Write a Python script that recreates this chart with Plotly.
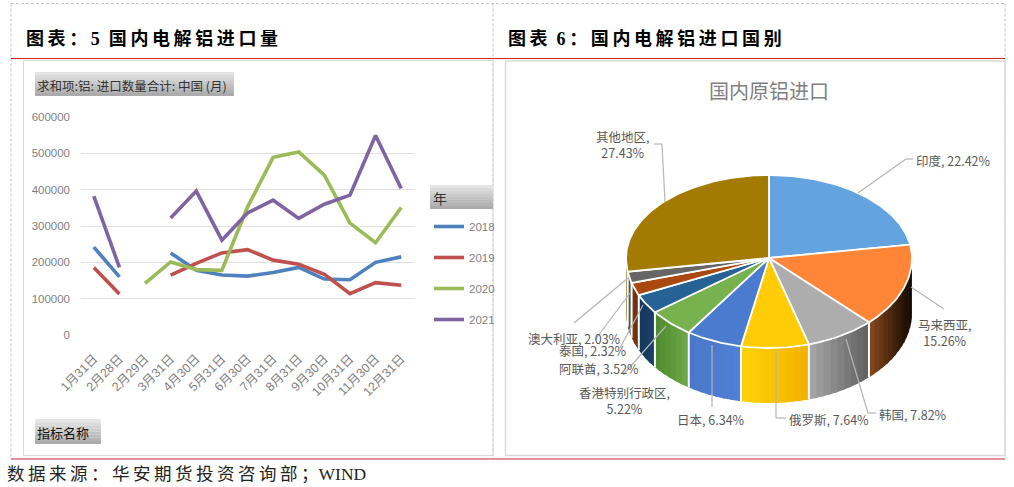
import numpy as np
import plotly.graph_objects as go

# left chart: monthly import volume by year
dates = ["1月31日", "2月28日", "2月29日", "3月31日", "4月30日", "5月31日", "6月30日",
         "7月31日", "8月31日", "9月30日", "10月31日", "11月30日", "12月31日"]
y2018 = [242000, 160000, None, 226000, 178000, 165000, 162000, 172000, 186000, 154000, 152000, 200000, 215000]
y2019 = [186000, 113000, None, 165000, 197000, 226000, 235000, 206000, 195000, 167000, 114000, 144000, 137000]
y2020 = [None, None, 142000, 201000, 180000, 178000, 352000, 489000, 504000, 440000, 308000, 254000, 351000]
y2021 = [382000, 186000, None, 322000, 396000, 261000, 336000, 371000, 321000, 360000, 385000, 549000, 403000]
y_ticks = [0, 100000, 200000, 300000, 400000, 500000, 600000]

# right chart: import share by country, clockwise from 12 o'clock
countries = ["印度", "马来西亚", "韩国", "俄罗斯", "日本", "香港特别行政区", "阿联酋", "泰国", "澳大利亚", "其他地区"]
shares = [22.42, 15.26, 7.82, 7.64, 6.34, 5.22, 3.52, 2.32, 2.03, 27.43]
top_colors = ["#62A3E0", "#FF8636", "#ADADAD", "#FFCC05", "#4A7BCE", "#77B24E", "#266293", "#A9480F", "#666666", "#A37B02"]
# side wall colours, left end to right end of each slice
side_left = ["#3F6F9E", "#8A4A1E", "#A8A8A8", "#FFD50A", "#4A78C8", "#4E8A2C", "#143A5E", "#7A3A10", "#555555", "#6E5302"]
side_right = ["#3F6F9E", "#100800", "#606060", "#F2B000", "#5080D8", "#70A848", "#1A4266", "#6A300C", "#555555", "#6E5302"]

W, H = 1014, 487
GRAY = "#7F7F7F"
CJK = "Noto Sans CJK SC"
SERIF = "Liberation Serif, Noto Sans CJK SC"
SANS = "Liberation Sans, Noto Sans CJK SC"

# pie geometry, in page pixels
CX, CY, RX, RY_BACK, RY_FRONT, DEPTH = 769, 258, 143, 83, 90, 55


def rim(deg):
    """Point on the tilted pie rim, deg clockwise from 12 o'clock."""
    a = np.radians(deg)
    c = np.cos(a)
    ry = np.where(c >= 0, RY_BACK, RY_FRONT)
    return CX + RX * np.sin(a), CY - ry * c


def mix(c0, c1, t):
    p = [int(c0[i:i + 2], 16) * (1 - t) + int(c1[i:i + 2], 16) * t for i in (1, 3, 5)]
    return "rgb(%d,%d,%d)" % tuple(p)


def spaced(text, gap="\u2009"):
    return gap.join(text)


def gradient_box(shapes, x0, y0, x1, y1, light="#E4E4E4", dark="#ABABAB", steps=8):
    for i in range(steps):
        h = (y1 - y0) / steps
        shapes.append(dict(type="rect", xref="x2", yref="y2", x0=x0, x1=x1, y0=y0 + i * h, y1=y0 + (i + 1) * h,
                           fillcolor=mix(light, dark, i / (steps - 1)), line_width=0, layer="below"))


def seg(shapes, x0, y0, x1, y1, color, width=1, dash="solid", layer="below"):
    shapes.append(dict(type="line", xref="x2", yref="y2", x0=x0, y0=y0, x1=x1, y1=y1,
                       line=dict(color=color, width=width, dash=dash), layer=layer))


fig = go.Figure()

for name, vals, color in [("2018", y2018, "#4F81BD"), ("2019", y2019, "#C0504D"),
                          ("2020", y2020, "#9BBB59"), ("2021", y2021, "#8064A2")]:
    fig.add_trace(go.Scatter(x=dates, y=vals, mode="lines", name=name, legendgroup=name,
                             line=dict(color=color, width=3.6), connectgaps=False))

# pie: sides first (front half only), then the top faces
edges = np.concatenate([[0], np.cumsum(shares)]) * 3.6
for i in range(len(shares)):
    a0, a1 = max(edges[i], 90), min(edges[i + 1], 270)
    if a1 <= a0:
        continue
    n = max(2, int((a1 - a0) / 3))
    cuts = np.linspace(a0, a1, n + 1)
    x_right, x_left = rim(np.array([a0]))[0][0], rim(np.array([a1]))[0][0]
    for k in range(n):
        arc = np.linspace(cuts[k], cuts[k + 1] + 1.0, 4)
        x, y = rim(arc)
        t = (rim(np.array([(cuts[k] + cuts[k + 1]) / 2]))[0][0] - x_left) / (x_right - x_left)
        fig.add_trace(go.Scatter(x=np.r_[x, x[::-1]], y=np.r_[y, y[::-1] + DEPTH], mode="lines", fill="toself",
                                 fillcolor=mix(side_left[i], side_right[i], t), line_width=0,
                                 xaxis="x2", yaxis="y2", showlegend=False, hoverinfo="skip"))

# white seams between the side walls
for a in edges[1:-1]:
    if 90 < a < 270:
        x, y = rim(np.array([a]))
        fig.add_trace(go.Scatter(x=[x[0], x[0]], y=[y[0], y[0] + DEPTH], mode="lines", line=dict(color="white", width=2),
                                 xaxis="x2", yaxis="y2", showlegend=False, hoverinfo="skip"))

for i in range(len(shares)):
    arc = np.linspace(edges[i], edges[i + 1], max(3, int(edges[i + 1] - edges[i]) + 1))
    x, y = rim(arc)
    fig.add_trace(go.Scatter(x=np.r_[CX, x, CX], y=np.r_[CY, y, CY], mode="lines", fill="toself",
                             fillcolor=top_colors[i], line=dict(color="white", width=1.8),
                             xaxis="x2", yaxis="y2", showlegend=False,
                             hovertemplate=f"{countries[i]}: {shares[i]:.2f}%<extra></extra>"))

shapes = []
# dashed frames and red rules
seg(shapes, 11, 3.5, 1005, 3.5, "#C4C4C4", dash="3px,2px")
for px in (11, 493, 1005):
    seg(shapes, px, 3.5, px, 459, "#C4C4C4", dash="3px,2px")
shapes.append(dict(type="rect", xref="x2", yref="y2", x0=23.5, x1=493, y0=60.5, y1=455.5,
                   line=dict(color="#D9D9D9", width=1), layer="below"))
shapes.append(dict(type="rect", xref="x2", yref="y2", x0=505.5, x1=1005, y0=61, y1=455.5,
                   line=dict(color="#D9D9D9", width=1.5), layer="below"))
seg(shapes, 11, 58.5, 1005, 58.5, "#E0202F")
seg(shapes, 11, 459, 1005, 459, "#C8283C")
gradient_box(shapes, 35, 72, 234, 96)
gradient_box(shapes, 35, 419, 101, 444)
gradient_box(shapes, 430, 185, 493, 209)

# pie leader lines
leaders = [[(858, 193), (906, 159), (913, 159)], [(665, 202), (662, 144), (654, 144)], [(911, 287), (944, 309)],
           [(846, 339), (868, 413), (876, 413)], [(776, 350), (776, 418), (786, 418)], [(712, 345), (712, 407)],
           [(666, 326), (623, 375)], [(643, 305), (620, 348)], [(630, 293), (595, 340)], [(628, 278), (574, 323)]]
for pts in leaders:
    for p, q in zip(pts, pts[1:]):
        seg(shapes, p[0], p[1], q[0], q[1], "#B5B5B5", width=1.2, layer="above")

anns = []


def text(s, x, y, size=13, color="#595959", family=CJK, anchor="center", bold=False):
    anns.append(dict(text=f"<b>{s}</b>" if bold else s, x=x, y=y, xref="x2", yref="y2", showarrow=False, xanchor=anchor,
                     yanchor="middle", font=dict(size=size, color=color, family=family)))


text(spaced("图表：5") + "  " + spaced("国内电解铝进口量"), 24, 39, size=18, color="black", family=SERIF, anchor="left", bold=True)
text(spaced("图表") + "  " + spaced("6：国内电解铝进口国别"), 506, 39, size=18, color="black", family=SERIF, anchor="left", bold=True)
text(spaced("数据来源：华安期货投资咨询部；") + "WIND", 5, 474, size=17.5, color="#222222", family=SERIF, anchor="left")
text("求和项:铝: 进口数量合计: 中国 (月)", 35, 85, size=12.5, color="#333333", anchor="left")
text("指标名称", 35, 432, size=13, color="#111111", anchor="left")
text("年", 431, 198, size=14, color="#333333", anchor="left")
text("国内原铝进口", 769, 90, size=20, color=GRAY)

# pie labels: name, share
label_pos = [(953, 160), (944, 332), (913, 414), (829, 419), (711, 419), (624, 400), (599, 368), (593, 350), (574, 338), (622, 144)]
wrapped = {"马来西亚", "香港特别行政区", "其他地区"}
for name, share, (lx, ly) in zip(countries, shares, label_pos):
    sep = ",<br>" if name in wrapped else ", "
    text(f"{name}{sep}{share:.2f}%", lx, ly, size=12.5)

fig.update_layout(
    width=W, height=H, margin=dict(l=0, r=0, t=0, b=0, autoexpand=False),
    paper_bgcolor="white", plot_bgcolor="rgba(0,0,0,0)",
    shapes=shapes, annotations=anns,
    xaxis=dict(domain=[81 / W, 414 / W], type="category", categoryorder="array", categoryarray=dates,
               range=[-0.5, 12.5], tickangle=-45, showgrid=False, showline=False, ticks="", fixedrange=True,
               ticklabelstandoff=13, tickfont=dict(size=12.5, color=GRAY, family=SANS)),
    yaxis=dict(domain=[(H - 335) / H, (H - 117) / H], range=[0, 600000], tickvals=y_ticks, tickformat="d",
               gridcolor="#E0E0E0", gridwidth=1.3, zeroline=False, ticks="", showline=False, fixedrange=True,
               ticklabelstandoff=10, tickfont=dict(size=11.5, color=GRAY, family=SANS)),
    xaxis2=dict(domain=[0, 1], range=[0, W], visible=False, fixedrange=True, anchor="y2"),
    yaxis2=dict(domain=[0, 1], range=[H, 0], visible=False, fixedrange=True, anchor="x2"),
    legend=dict(x=429 / W, y=(H - 212) / H, xanchor="left", yanchor="top", tracegroupgap=12, itemwidth=30,
                bgcolor="rgba(0,0,0,0)", font=dict(size=11.5, color=GRAY, family=SANS)),
)

fig.write_html("out.html", config=dict(displayModeBar=False), post_script="document.body.style.margin='0';")
